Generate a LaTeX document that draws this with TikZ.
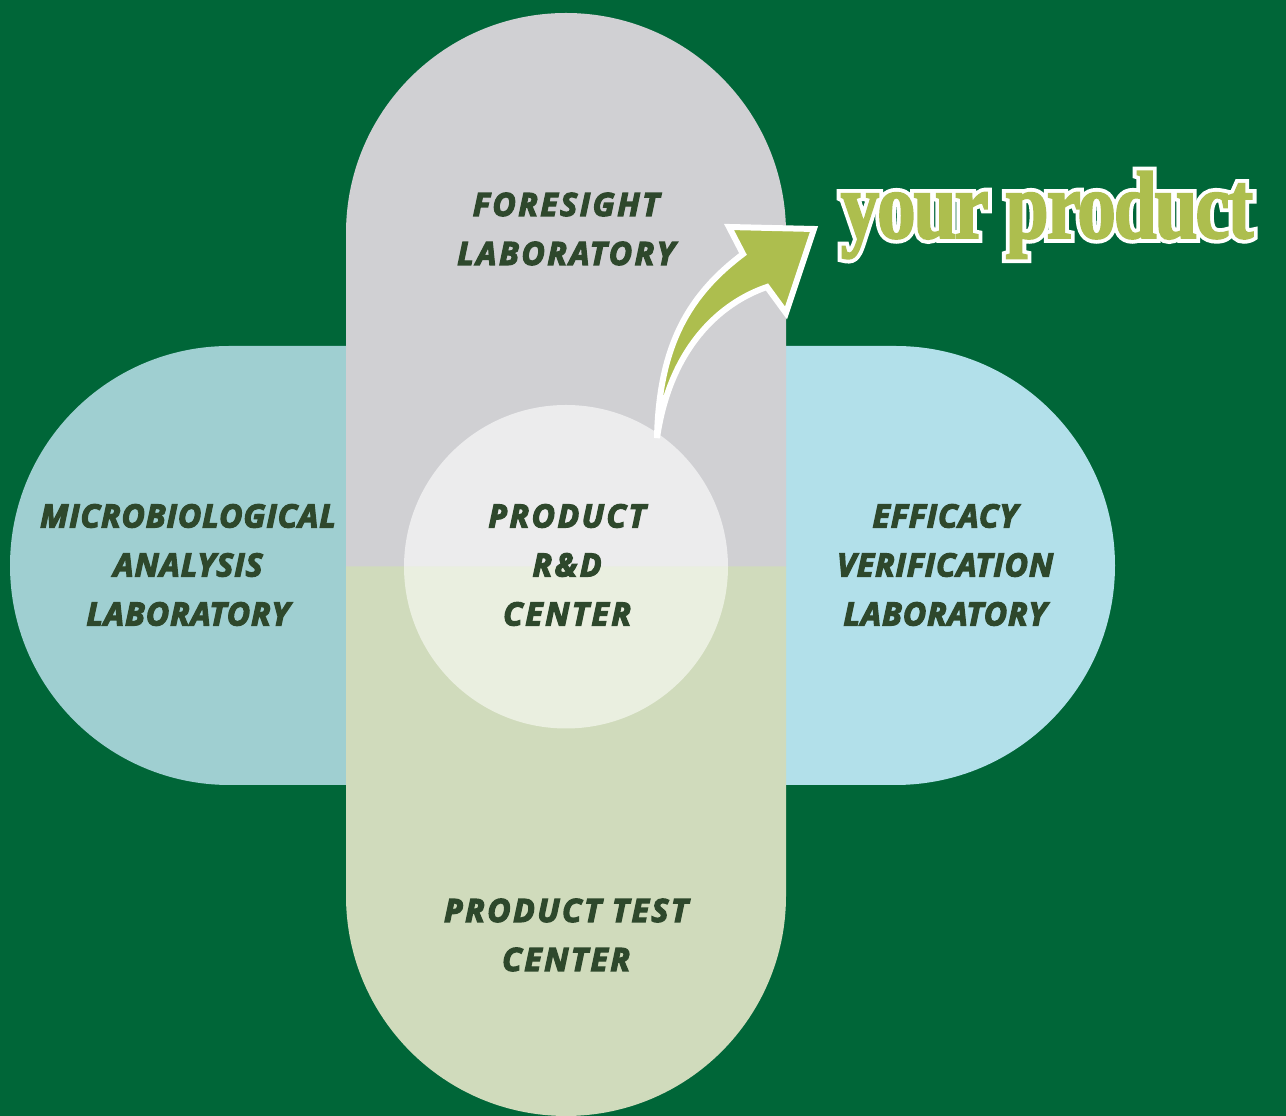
\documentclass[tikz,border=0pt]{standalone}
\usepackage{fontspec}
\usetikzlibrary{calc}
\newfontfamily\labfont{Open Sans}[BoldItalicFeatures={FakeBold=4},LetterSpace=3]
\newfontfamily\labspaced{Open Sans}[BoldItalicFeatures={FakeBold=4},LetterSpace=8]
\newfontfamily\yourfont{Liberation Serif}[FakeStretch=0.8,LetterSpace=-2,BoldFeatures={FakeBold=2}]
\newfontfamily\yourline{Liberation Serif}[FakeStretch=0.8,LetterSpace=-2,BoldFeatures={FakeBold=10}]
\definecolor{bggreen}{RGB}{0,102,56}
\definecolor{pillgray}{RGB}{208,208,211}
\definecolor{pillgreen}{RGB}{208,219,188}
\definecolor{pillleft}{RGB}{159,207,209}
\definecolor{pillright}{RGB}{178,224,234}
\definecolor{circtop}{RGB}{236,236,237}
\definecolor{circbot}{RGB}{234,239,224}
\definecolor{labtext}{RGB}{46,72,44}
\definecolor{lime}{RGB}{173,190,78}
\tikzset{
  lab/.style={text=labtext, align=center, font=\labfont\bfseries\itshape\fontsize{32}{49}\selectfont, inner sep=0pt},
  labsp/.style={text=labtext, align=center, font=\labspaced\bfseries\itshape\fontsize{32}{49}\selectfont, inner sep=0pt},
  yp/.style={font=\yourfont\bfseries\fontsize{96}{96}\selectfont, inner sep=0pt, anchor=base},
  ypline/.style={font=\yourline\bfseries\fontsize{96}{96}\selectfont, inner sep=0pt, anchor=base}
}
\begin{document}
\begin{tikzpicture}[x=1pt,y=1pt]
\useasboundingbox (0,0) rectangle (1286,1116);
\fill[bggreen] (0,0) rectangle (1286,1116);
% side pills
\fill[pillleft] (566,770) -- (229.5,770) arc (90:270:219.5pt) -- (566,331) -- cycle;
\fill[pillright] (566,770) -- (895.5,770) arc (90:-90:219.5pt) -- (566,331) -- cycle;
% vertical pill
\fill[pillgray] (346,549) -- (346,883) arc (180:0:220pt) -- (786,549) -- cycle;
\fill[pillgreen] (346,549.5) -- (346,220) arc (180:360:220pt) -- (786,549.5) -- cycle;
% center circle
\fill[circtop] (404,549) arc (180:0:162pt) -- cycle;
\fill[circbot] (404,549.5) arc (180:360:162pt) -- cycle;
% arrow
\draw[white, line width=6pt, line join=miter, fill=lime]
  (657,678) .. controls (659,772) and (690,822) .. (743,862)
  -- (729,889) -- (814,887) -- (786,803) -- (767,829)
  .. controls (720,813) and (670,768) .. (657,678) -- cycle;
% labels
\node[labsp] (fore) at (566,887) {FORESIGHT\\LABORATORY};
\node[lab] (micro) at (188,551) {MICROBIOLOGICAL\\ANALYSIS\\LABORATORY};
\node[labsp] (rd) at (567,551) {PRODUCT\\R\&D\\CENTER};
\node[lab] (eff) at (945,551) {EFFICACY\\VERIFICATION\\LABORATORY};
\node[labsp] (test) at (566,181) {PRODUCT TEST\\CENTER};
% your product
\node[ypline, text=white] (ypoutline) at (1047,878) {your product};
\node[yp, text=lime] (yourprod) at (1047,878) {your product};
\end{tikzpicture}
\end{document}
